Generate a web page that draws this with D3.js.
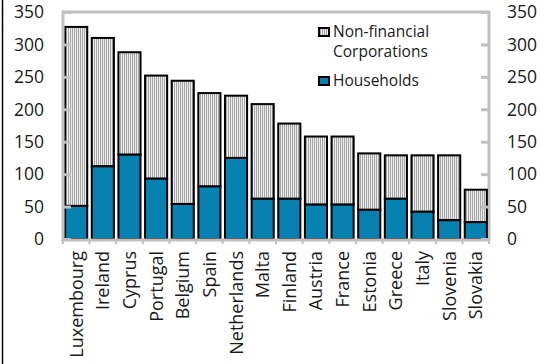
<!DOCTYPE html>
<html>
<head>
<meta charset="utf-8">
<script src="https://cdn.jsdelivr.net/npm/d3@7"></script>
<style>
  body { margin: 0; background: #fff; }
  svg { display: block; font-family: "Open Sans", "Noto Sans", sans-serif; }
</style>
</head>
<body>
<script>
// Country names, ordered as in the chart.
var countries = ["Luxembourg", "Ireland", "Cyprus", "Portugal", "Belgium", "Spain",
  "Netherlands", "Malta", "Finland", "Austria", "France", "Estonia", "Greece",
  "Italy", "Slovenia", "Slovakia"];

// Household debt.
var households = [51, 112, 130, 93, 54, 81, 125, 62, 62, 53, 53, 45, 62, 42, 29, 26];

// Total debt (households + non-financial corporations).
var totals = [327, 310, 288, 252, 244, 225, 221, 208, 178, 158, 158, 132, 129, 129, 129, 76];

var yTicks = [0, 50, 100, 150, 200, 250, 300, 350];

var width = 540, height = 364;
// plot box edges (note: "top" is taken by window.top)
var plotL = 63, plotR = 489, plotT = 12, plotB = 239;
var axisGrey = "#c0c0c0";
var blue = "#0781b0";

var svg = d3.select("body").append("svg")
  .attr("width", width)
  .attr("height", height);

// vertical stripes for the corporations part
var pat = svg.append("defs").append("pattern")
  .attr("id", "stripes")
  .attr("patternUnits", "userSpaceOnUse")
  .attr("width", 2)
  .attr("height", 4);
pat.append("rect").attr("width", 2).attr("height", 4).attr("fill", "#ececec");
pat.append("rect").attr("width", 1).attr("height", 4).attr("fill", "#a6a6a6");

// frame line on the left edge of the picture
svg.append("line")
  .attr("x1", 2.5).attr("x2", 2.5)
  .attr("y1", 0).attr("y2", height)
  .attr("stroke", "#000").attr("stroke-width", 1.5);

var x = d3.scaleBand()
  .domain(countries)
  .range([plotL, plotR])
  .paddingInner(0.17)
  .paddingOuter(0.08);

var y = d3.scaleLinear()
  .domain([0, 350])
  .range([plotB, plotT]);

// plot box: top and right gray lines
svg.append("path")
  .attr("d", "M" + plotL + "," + plotT + "H" + plotR + "V" + plotB)
  .attr("fill", "none")
  .attr("stroke", axisGrey)
  .attr("stroke-width", 3);

var rows = countries.map(function (c, i) {
  return { name: c, hh: households[i], total: totals[i] };
});

var bars = svg.append("g");

// corporations on top of households
bars.selectAll(".corp")
  .data(rows)
  .join("rect")
  .attr("class", "corp")
  .attr("x", function (d) { return x(d.name); })
  .attr("width", x.bandwidth())
  .attr("y", function (d) { return y(d.total); })
  .attr("height", function (d) { return y(d.hh) - y(d.total); })
  .attr("fill", "url(#stripes)")
  .attr("stroke", "#000")
  .attr("stroke-width", 2);

bars.selectAll(".hh")
  .data(rows)
  .join("rect")
  .attr("class", "hh")
  .attr("x", function (d) { return x(d.name); })
  .attr("width", x.bandwidth())
  .attr("y", function (d) { return y(d.hh); })
  .attr("height", function (d) { return y(0) - y(d.hh); })
  .attr("fill", blue)
  .attr("stroke", "#000")
  .attr("stroke-width", 2);

// left axis, ticks pointing into the plot
var yLeft = svg.append("g")
  .attr("transform", "translate(" + plotL + ",0)")
  .call(d3.axisRight(y).tickValues(yTicks).tickSize(8).tickFormat(""));
yLeft.select(".domain").remove();
yLeft.selectAll("line").attr("stroke", axisGrey).attr("stroke-width", 3);

svg.append("line")
  .attr("x1", plotL).attr("x2", plotL)
  .attr("y1", plotT - 1.5).attr("y2", plotB + 2)
  .attr("stroke", axisGrey).attr("stroke-width", 3);

svg.append("g").selectAll("text")
  .data(yTicks)
  .join("text")
  .attr("x", 44)
  .attr("y", function (d) { return y(d); })
  .attr("dy", "0.36em")
  .attr("text-anchor", "end")
  .attr("font-size", 17.5)
  .attr("fill", "#1a1a1a")
  .text(function (d) { return d; });

// right axis
var yRight = svg.append("g")
  .attr("transform", "translate(" + plotR + ",0)")
  .call(d3.axisLeft(y).tickValues(yTicks).tickSize(8).tickFormat(""));
yRight.select(".domain").remove();
yRight.selectAll("line").attr("stroke", axisGrey).attr("stroke-width", 3);

svg.append("g").selectAll("text")
  .data(yTicks)
  .join("text")
  .attr("x", 507)
  .attr("y", function (d) { return y(d); })
  .attr("dy", "0.36em")
  .attr("text-anchor", "start")
  .attr("font-size", 17.5)
  .attr("fill", "#1a1a1a")
  .text(function (d) { return d; });

// bottom axis with ticks between the categories
var boundaries = countries.map(function (c) { return x(c) - x.step() * x.paddingInner() / 2; });
boundaries.push(plotR);
svg.append("g").selectAll("line")
  .data(boundaries)
  .join("line")
  .attr("x1", function (d) { return d; })
  .attr("x2", function (d) { return d; })
  .attr("y1", plotB)
  .attr("y2", plotB + 5)
  .attr("stroke", axisGrey)
  .attr("stroke-width", 2);

svg.append("line")
  .attr("x1", plotL - 1.5).attr("x2", plotR + 1.5)
  .attr("y1", plotB + 1).attr("y2", plotB + 1)
  .attr("stroke", axisGrey).attr("stroke-width", 3);

svg.append("g").selectAll("text")
  .data(countries)
  .join("text")
  .attr("transform", function (d) {
    return "translate(" + (x(d) + x.bandwidth() / 2) + "," + (plotB + 12) + ") rotate(-90)";
  })
  .attr("dy", "0.36em")
  .attr("text-anchor", "end")
  .attr("font-size", 18)
  .attr("fill", "#1a1a1a")
  .text(function (d) { return d; });

// legend
var legend = svg.append("g").attr("font-size", 15.5).attr("fill", "#1a1a1a");

legend.append("rect")
  .attr("x", 319).attr("y", 28).attr("width", 10).attr("height", 8)
  .attr("fill", "url(#stripes)").attr("stroke", "#000").attr("stroke-width", 2);
legend.append("text").attr("x", 333).attr("y", 37).text("Non-financial");
legend.append("text").attr("x", 333).attr("y", 57).text("Corporations");

legend.append("rect")
  .attr("x", 319).attr("y", 77).attr("width", 10).attr("height", 8)
  .attr("fill", blue).attr("stroke", "#000").attr("stroke-width", 2);
legend.append("text").attr("x", 333).attr("y", 86).text("Households");
</script>
</body>
</html>
